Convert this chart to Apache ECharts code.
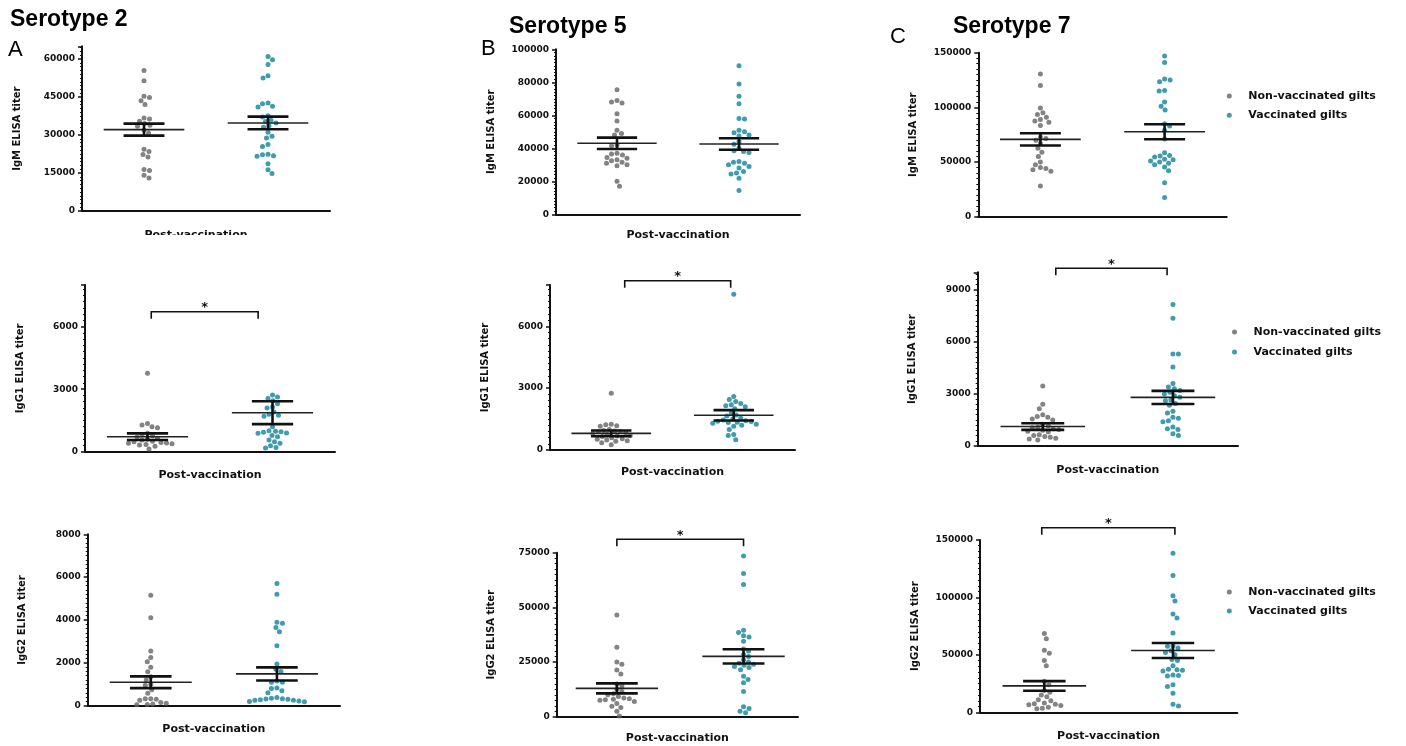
<!DOCTYPE html>
<html>
<head>
<meta charset="utf-8">
<script src="https://cdn.jsdelivr.net/npm/echarts@6/dist/echarts.min.js"></script>
<style>
html, body { margin: 0; padding: 0; background: #fff; }
#main { width: 1406px; height: 746px; }
</style>
</head>
<body>
<div id="main"></div>
<script>
var groups = ['Non-vaccinated gilts', 'Vaccinated gilts'];
var colors = ['#646464', '#0f8298'];

// serotype 2
var igmS2Non = [55400, 51400, 45300, 44800, 43500, 42000, 36700, 36300, 35400, 34500, 33800, 33400, 32000, 30800, 24400, 23500, 22300, 21300, 16400, 16000, 14100, 13000];
var igmS2Vac = [61000, 59700, 57800, 53400, 52500, 42600, 42300, 41300, 41000, 37600, 37100, 35800, 35300, 34700, 33600, 33100, 31100, 29500, 28800, 26200, 25500, 22400, 22200, 21800, 21600, 18600, 16300, 14800];
var igg1S2Non = [3760, 1350, 1280, 1200, 1150, 880, 820, 760, 700, 650, 600, 560, 500, 480, 440, 420, 400, 380, 350, 320, 260, 130];
var igg1S2Vac = [2720, 2620, 2550, 2450, 2300, 2150, 2100, 1900, 1800, 1750, 1700, 1200, 1000, 980, 960, 930, 900, 880, 780, 720, 560, 480, 400, 290, 200, 180];
var igg2S2Non = [5150, 4100, 2550, 2250, 2050, 1800, 1580, 1350, 1200, 1000, 950, 750, 580, 320, 320, 300, 250, 150, 120, 80, 60, 40];
var igg2S2Vac = [5700, 5200, 3900, 3850, 3650, 3450, 2800, 1950, 1700, 1600, 1150, 1100, 1100, 830, 800, 700, 600, 380, 350, 330, 300, 280, 250, 200, 180, 220, 260, 310];
// serotype 5
var igmS5Non = [75500, 69000, 68000, 67500, 61000, 56500, 51000, 49000, 48000, 42000, 41500, 37000, 36500, 36000, 34500, 34000, 33000, 32500, 31500, 31000, 30000, 29500, 20000, 17000];
var igmS5Vac = [90000, 79000, 71500, 67000, 58000, 57800, 51000, 50000, 49500, 48000, 47500, 44000, 42500, 40000, 38500, 38000, 37500, 32000, 31500, 31000, 30000, 29000, 28000, 26000, 25000, 24500, 21800, 14500];
var igg1S5Non = [2750, 1250, 1220, 1180, 1150, 1000, 950, 920, 900, 880, 850, 800, 750, 700, 680, 650, 600, 550, 520, 480, 450, 420, 350, 260];
var igg1S5Vac = [7550, 2600, 2450, 2350, 2250, 2200, 2150, 2100, 2000, 1800, 1700, 1650, 1550, 1500, 1450, 1420, 1400, 1380, 1350, 1330, 1300, 1250, 1200, 1150, 1000, 750, 700, 500];
var igg2S5Non = [46500, 31800, 25000, 24000, 21300, 19500, 15000, 14000, 12500, 11500, 10500, 10000, 9200, 8500, 8200, 8000, 7800, 7500, 7000, 6000, 4800, 4200, 2500, 300];
var igg2S5Vac = [73500, 65500, 60500, 39500, 38500, 37000, 36500, 34500, 31000, 30000, 28500, 27500, 26000, 25000, 24500, 24000, 23500, 23000, 22500, 21500, 18500, 17000, 15500, 11500, 4500, 3800, 2500, 1800];
// serotype 7
var igmS7Non = [130500, 120000, 99500, 95000, 93500, 91000, 89000, 87500, 86500, 83500, 73000, 71500, 70000, 67000, 62500, 59000, 55000, 50000, 47500, 45000, 44000, 43000, 41500, 28000];
var igmS7Vac = [147000, 141000, 126000, 125000, 123500, 115500, 115000, 105000, 101000, 97500, 85000, 83000, 79000, 71000, 58500, 56000, 55500, 54500, 52500, 52000, 51000, 50000, 49000, 47500, 45500, 42000, 31000, 17500];
var igg1S7Non = [3450, 2400, 2150, 1800, 1700, 1650, 1550, 1500, 1250, 1150, 1100, 1050, 1000, 950, 900, 850, 800, 650, 600, 550, 500, 450, 400, 350];
var igg1S7Vac = [8150, 7350, 5300, 5300, 4550, 3600, 3400, 3300, 3200, 3100, 3000, 2900, 2800, 2650, 2600, 2450, 2350, 2000, 1900, 1650, 1600, 1450, 1400, 1100, 1000, 950, 700, 600];
var igg2S7Non = [68500, 64000, 54000, 51500, 45000, 40500, 27000, 24000, 19000, 17500, 15000, 13500, 11000, 10000, 8000, 7500, 7000, 6500, 6000, 4500, 3500, 3000];
var igg2S7Vac = [138500, 119000, 101500, 97000, 85500, 82000, 69000, 58000, 57500, 56000, 53500, 52000, 50000, 46000, 45000, 40500, 37500, 37000, 36500, 36000, 32500, 32000, 31500, 24000, 22500, 16500, 7000, 5500];

// mean +/- SEM per panel (A top, A mid, A bottom, B..., C...)
var meanNon = [32100, 720, 1094, 43030, 808, 12960, 70730, 1119, 22965];
var semNon = [2370, 160, 275, 3430, 140, 2290, 5640, 193, 4215];
var meanVac = [34740, 1872, 1484, 42630, 1682, 27590, 77740, 2797, 53780];
var semVac = [2500, 550, 305, 3500, 250, 3280, 6860, 376, 6540];

var yMax = [65000, 8000, 8000, 100000, 8000, 75000, 150000, 10000, 150000];
var yStep = [15000, 3000, 2000, 20000, 3000, 25000, 50000, 3000, 50000];
var yNames = ['IgM ELISA titer', 'IgG1 ELISA titer', 'IgG2 ELISA titer',
              'IgM ELISA titer', 'IgG1 ELISA titer', 'IgG2 ELISA titer',
              'IgM ELISA titer', 'IgG1 ELISA titer', 'IgG2 ELISA titer'];

var nonData = [igmS2Non, igg1S2Non, igg2S2Non, igmS5Non, igg1S5Non, igg2S5Non, igmS7Non, igg1S7Non, igg2S7Non];
var vacData = [igmS2Vac, igg1S2Vac, igg2S2Vac, igmS5Vac, igg1S5Vac, igg2S5Vac, igmS7Vac, igg1S7Vac, igg2S7Vac];

// panel layout (pixels), bracket = [x1, x2, offset from grid top]
var layout = [
  { left: 82, top: 46.3, right: 330, bottom: 211, xMin: 0, xMax: 4, nameGap: 19, namePad: [0, 20, 0, 0] },
  { left: 85, top: 285, right: 335, bottom: 451.7, xMin: 0, xMax: 4, nameGap: 18, bracket: [1.06, 2.77, 26.7] },
  { left: 87.7, top: 534.3, right: 340, bottom: 705.7, xMin: 0, xMax: 4, nameGap: 18 },
  { left: 556, top: 49.3, right: 800, bottom: 214.3, xMin: 0, xMax: 4, nameGap: 15 },
  { left: 550, top: 285, right: 795, bottom: 450, xMin: 0, xMax: 4, nameGap: 17, bracket: [1.22, 2.95, -4.3] },
  { left: 556.7, top: 552.7, right: 798, bottom: 716.7, xMin: 0.05, xMax: 3.86, nameGap: 16, bracket: [1, 3, -13.4] },
  { left: 978.3, top: 52.7, right: 1226.7, bottom: 216.7, xMin: 0, xMax: 4, nameGap: 0 },
  { left: 977.7, top: 272.3, right: 1238, bottom: 446, xMin: 0, xMax: 4, nameGap: 19, bracket: [1.2, 2.91, -4] },
  { left: 980, top: 540, right: 1237.3, bottom: 712.3, xMin: 0, xMax: 4, nameGap: 18, bracket: [0.96, 3.03, -12.3] }
];

var legendPos = [
  { left: 1226.8, top: 89, gap: 5.3 },
  { left: 1232, top: 325, gap: 6 },
  { left: 1226.8, top: 585, gap: 5 }
];

// beeswarm: spread the dots sideways so they don't overlap
function swarm(values, center, L, ymax) {
  var pxX = (L.right - L.left) / (L.xMax - L.xMin);
  var pxY = (L.bottom - L.top) / ymax;
  var d = 5.4;
  var order = values.map(function (v, i) { return i; })
    .sort(function (a, b) { return values[b] - values[a]; });
  var placed = [];
  var out = [];
  order.forEach(function (i, k) {
    var y = values[i] * pxY;
    var found = 0;
    for (var s = 0; s < 100; s += 0.5) {
      var signs = k % 2 ? [1, -1] : [-1, 1];
      var ok = false;
      for (var j = 0; j < 2 && !ok; j++) {
        var o = s * signs[j];
        ok = placed.every(function (q) {
          var dx = q[0] - o, dy = q[1] - y;
          return dx * dx + dy * dy >= d * d;
        });
        if (ok) found = o;
      }
      if (ok) break;
    }
    placed.push([found, y]);
    out.push([center + found / pxX, values[i]]);
  });
  return out;
}

function meanSem(params, api) {
  var x = api.value(0), m = api.value(1), s = api.value(2);
  var l = api.coord([x - 0.65, m]), r = api.coord([x + 0.65, m]);
  var hi = api.coord([x, m + s]), lo = api.coord([x, m - s]);
  var w = api.size([0.33, 0])[0];
  var st = { stroke: '#111', lineWidth: 2.6 };
  return {
    type: 'group',
    children: [
      { type: 'line', shape: { x1: l[0], y1: l[1], x2: r[0], y2: r[1] }, style: { stroke: '#222', lineWidth: 1.6 } },
      { type: 'line', shape: { x1: hi[0] - w, y1: hi[1], x2: hi[0] + w, y2: hi[1] }, style: st },
      { type: 'line', shape: { x1: lo[0] - w, y1: lo[1], x2: lo[0] + w, y2: lo[1] }, style: st },
      { type: 'line', shape: { x1: hi[0], y1: hi[1], x2: lo[0], y2: lo[1] }, style: st }
    ]
  };
}

function makeBracket(b, top) {
  return function (params, api) {
    var a = api.coord([b[0], top]), c = api.coord([b[1], top]);
    var y = a[1] + b[2], h = 7;
    return {
      type: 'group',
      children: [
        { type: 'polyline', shape: { points: [[a[0], y + h], [a[0], y], [c[0], y], [c[0], y + h]] },
          style: { stroke: '#111', lineWidth: 1.6, fill: null } },
        { type: 'text', x: (a[0] + c[0]) / 2, y: y - 4,
          style: { text: '*', fill: '#111', font: 'bold 13px "DejaVu Sans"', align: 'center', verticalAlign: 'middle' } }
      ]
    };
  };
}

var grids = [], xAxes = [], yAxes = [], series = [];
layout.forEach(function (L, p) {
  grids.push({ left: L.left, top: L.top, width: L.right - L.left, height: L.bottom - L.top, outerBoundsMode: 'none' });
  xAxes.push({
    gridIndex: p, type: 'value', min: L.xMin, max: L.xMax,
    axisLine: { show: true, onZero: false, lineStyle: { color: '#111', width: 2 } },
    axisTick: { show: false }, axisLabel: { show: false }, splitLine: { show: false },
    name: p === 6 ? '' : 'Post-vaccination', nameLocation: 'middle', nameGap: L.nameGap,
    nameTextStyle: { fontFamily: 'DejaVu Sans', fontWeight: 'bold', fontSize: 11, color: '#111', padding: L.namePad || 0 }
  });
  var step = yStep[p];
  yAxes.push({
    gridIndex: p, type: 'value', min: 0, max: yMax[p], interval: step,
    axisLine: { show: true, onZero: false, lineStyle: { color: '#111', width: 2 } },
    axisTick: { show: true, length: 4, lineStyle: { color: '#111', width: 1.5 } },
    minorTick: { show: true, splitNumber: 10, length: 2, lineStyle: { color: '#111', width: 1 } },
    splitLine: { show: false },
    axisLabel: {
      margin: 7, color: '#111', fontFamily: 'DejaVu Sans', fontWeight: 'bold', fontSize: 9,
      formatter: function (v) { return v % step === 0 ? String(v) : ''; }
    },
    name: yNames[p], nameLocation: 'middle', nameRotate: 90, nameGap: 60,
    nameTextStyle: { fontFamily: 'DejaVu Sans', fontWeight: 'bold', fontSize: 10, color: '#111' }
  });
  series.push({
    name: groups[0], type: 'scatter', xAxisIndex: p, yAxisIndex: p, symbolSize: 5, silent: true,
    itemStyle: { color: colors[0] }, data: swarm(nonData[p], 1, L, yMax[p])
  });
  series.push({
    name: groups[1], type: 'scatter', xAxisIndex: p, yAxisIndex: p, symbolSize: 5, silent: true,
    itemStyle: { color: colors[1] }, data: swarm(vacData[p], 3, L, yMax[p])
  });
  series.push({
    type: 'custom', xAxisIndex: p, yAxisIndex: p, z: 5, clip: false, silent: true,
    renderItem: meanSem,
    data: [[1, meanNon[p], semNon[p]], [3, meanVac[p], semVac[p]]]
  });
  if (L.bracket) {
    series.push({
      type: 'custom', xAxisIndex: p, yAxisIndex: p, z: 5, clip: false, silent: true,
      renderItem: makeBracket(L.bracket, yMax[p]), data: [[L.bracket[0], 0]]
    });
  }
});

var headFont = { fontFamily: 'Liberation Sans', fontWeight: 'bold', fontSize: 23, color: '#000' };
var letterFont = { fontFamily: 'Liberation Sans', fontWeight: 'normal', fontSize: 22, color: '#000' };

var option = {
  animation: false,
  backgroundColor: '#fff',
  title: [
    { text: 'Serotype 2', left: 10, top: 8, padding: 0, textStyle: headFont },
    { text: 'Serotype 5', left: 509, top: 15, padding: 0, textStyle: headFont },
    { text: 'Serotype 7', left: 953, top: 15, padding: 0, textStyle: headFont },
    { text: 'A', left: 8, top: 39, padding: 0, textStyle: letterFont },
    { text: 'B', left: 481, top: 38, padding: 0, textStyle: letterFont },
    { text: 'C', left: 890, top: 26, padding: 0, textStyle: letterFont }
  ],
  legend: legendPos.map(function (g) {
    return {
      orient: 'vertical', left: g.left, top: g.top, padding: 0, itemGap: g.gap,
      itemWidth: 28, itemHeight: 5, icon: 'circle', selectedMode: false,
      data: groups,
      textStyle: { fontFamily: 'DejaVu Sans', fontWeight: 'bold', fontSize: 11, color: '#111', lineHeight: 14 }
    };
  }),
  grid: grids,
  xAxis: xAxes,
  yAxis: yAxes,
  graphic: [
    // the lower half of the first "Post-vaccination" is cut off in the figure
    { type: 'rect', z: 100, shape: { x: 120, y: 235, width: 180, height: 14 }, style: { fill: '#fff' } }
  ],
  series: series
};

var chart = echarts.init(document.getElementById('main'));
chart.setOption(option);
</script>
</body>
</html>
